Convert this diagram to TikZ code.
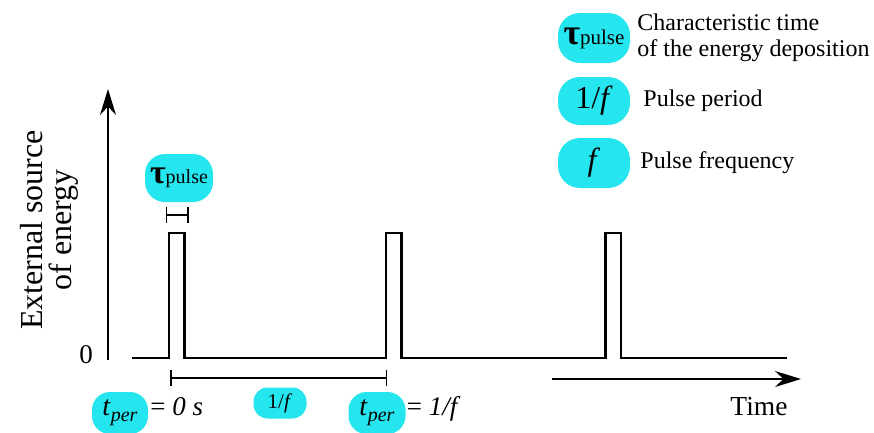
\documentclass[tikz,border=0pt]{standalone}
\usepackage{fontspec}
\setmainfont{Liberation Serif}[ItalicFont={Liberation Serif Italic},BoldFont={Liberation Serif Bold}]
\usetikzlibrary{arrows.meta}
\usetikzlibrary{positioning}
\definecolor{pulsecyan}{RGB}{37,229,238}
\newcommand{\fsz}[1]{\fontsize{#1pt}{#1pt}\selectfont}
\newcommand{\taupulse}[2]{{\fsz{#1}\textbf{τ}}{\fsz{#2}pulse}}
\newcommand{\tper}{{\fsz{28}\textit{t}}\raisebox{-6pt}{\fsz{20}\textit{per}}}

\begin{document}
\begin{tikzpicture}[x=1pt,y=-1pt,>={Stealth[length=26pt,width=16pt]}]
	\tikzset{bubble/.style={fill=pulsecyan,rounded corners=#1,inner sep=0pt}}
	\tikzset{axis/.style={line width=1.5pt}}
	\tikzset{signal/.style={line width=2.2pt,line join=miter}}
	\tikzset{bar/.style={line width=1.5pt,{Bar[width=16pt]}-{Bar[width=16pt]}}}
	\tikzset{legtext/.style={inner sep=0pt,align=left,font=\fsz{24}}}
	\pgfmathsetmacro{\yb}{358};
	\pgfmathsetmacro{\yt}{233};
	\pgfmathsetmacro{\w}{15.5};
	\useasboundingbox (0,0) rectangle (874,432);
	% axes
	\coordinate (yo) at (108,360);
	\coordinate (ytop) at (108,89);
	\coordinate (to) at (552,379);
	\coordinate (tend) at (801,379);
	\draw[axis,->] (yo) -- (ytop);
	\draw[axis,->] (to) -- (tend);
	\node (zero) at (86,355) {\fsz{27}0};
	\node (time) at (759,407) {\fsz{27.5}Time};
	\node[rotate=90,align=center,inner sep=0pt] (ylab) at (49,230)
		{\fsz{32}External source\\[5pt]\fsz{32}of energy};
	% pulses
	\draw[signal] (132,\yb) foreach \p in {169,386,605.5} {
		-- (\p,\yb) -- (\p,\yt) -- ++(\w,0) -- ++(0,{\yb-\yt}) } -- (787,\yb);
	\coordinate (tauL) at (165.5,215);
	\coordinate (tauR) at (188.5,215);
	\draw[bar] (tauL) -- (tauR);
	\node[bubble=20pt,minimum width=68pt,minimum height=48pt] (tauB) at (179,178) {\taupulse{34}{20}};
	\coordinate (perL) at (170,378);
	\coordinate (perR) at (387,378);
	\draw[bar] (perL) -- (perR);
	\node[bubble=18pt,minimum width=56pt,minimum height=42pt] (perA) at (120,413) {\tper};
	\node[anchor=base west,inner sep=0pt] (eqA) at ([xshift=2pt]perA.base east) {\fsz{27}= \textit{0 s}};
	\node[bubble=14pt,minimum width=53pt,minimum height=31pt] (periodB) at (280,403) {\fsz{21}1/\textit{f}};
	\node[bubble=18pt,minimum width=57pt,minimum height=42pt] (perB) at (377,413) {\tper};
	\node[anchor=base west,inner sep=0pt] (eqB) at ([xshift=1pt]perB.base east) {\fsz{27}= \textit{1/f}};
	% legend
	\node[bubble=22pt,minimum width=72pt,minimum height=50pt] (legTau) at (594,38) {\taupulse{36}{21}};
	\node[legtext,right=7pt of legTau] (legTauTxt) {Characteristic time\\[2pt]of the energy deposition};
	\node[bubble=22pt,minimum width=72pt,minimum height=48pt] (legPeriod) at (594,101) {\fsz{32}1/\textit{f}};
	\node[legtext,right=13pt of legPeriod] (legPeriodTxt) {Pulse period};
	\node[bubble=22pt,minimum width=72pt,minimum height=50pt] (legFreq) at (594,163) {\fsz{32}\textit{f}};
	\node[legtext,right=10pt of legFreq] (legFreqTxt) {Pulse frequency};
\end{tikzpicture}
\end{document}
